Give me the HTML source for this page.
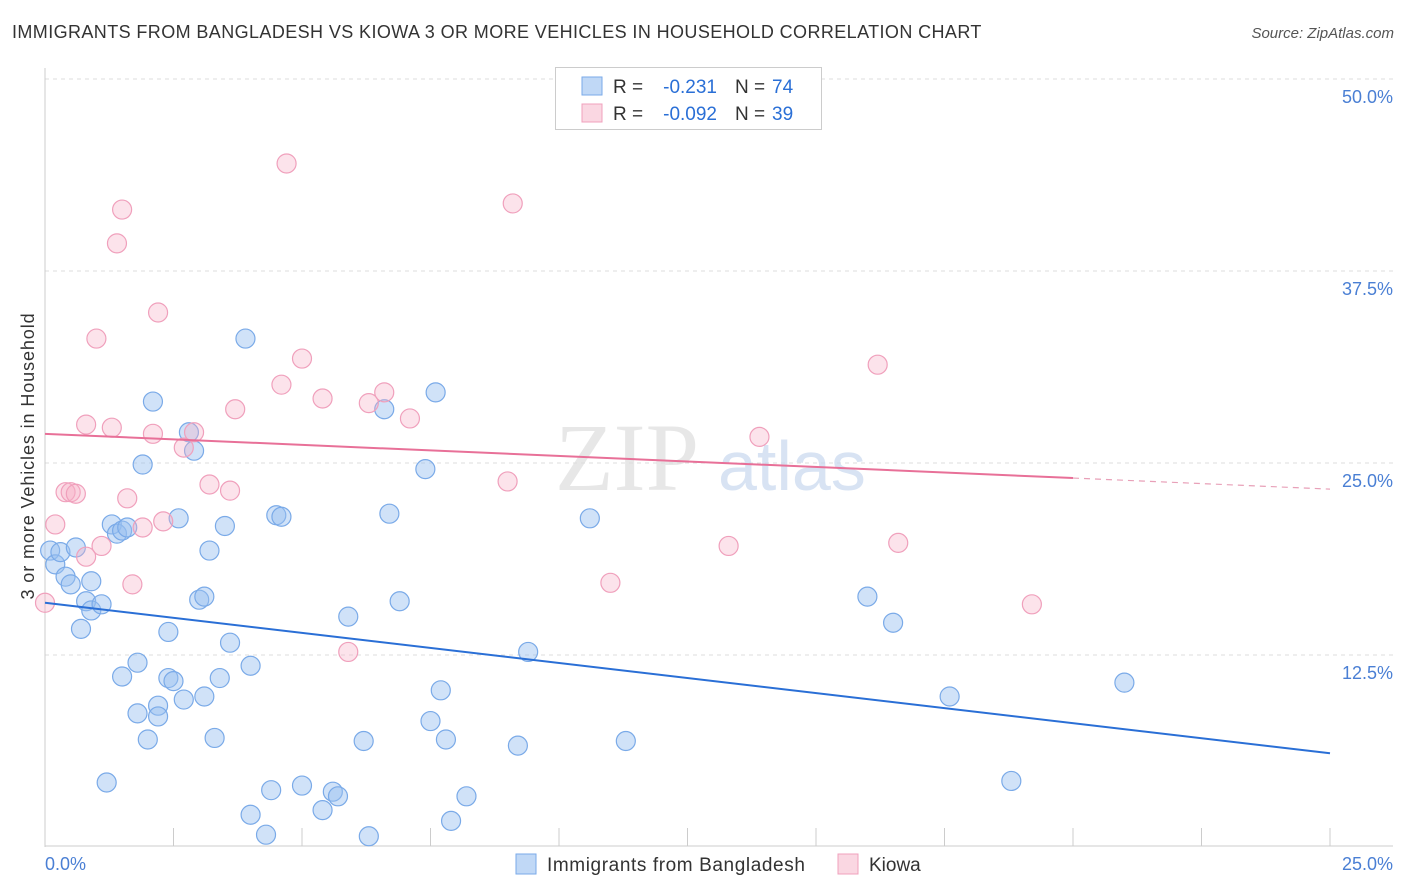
<!DOCTYPE html>
<html><head><meta charset="utf-8">
<style>
body{margin:0;background:#fff;font-family:"Liberation Sans",sans-serif;}
#wrap{position:relative;width:1406px;height:892px;overflow:hidden}
.t{position:absolute;white-space:nowrap}
</style></head>
<body><div id="wrap">
<div class="t" style="left:12px;top:22px;font-size:18px;color:#333;letter-spacing:0.4px">IMMIGRANTS FROM BANGLADESH VS KIOWA 3 OR MORE VEHICLES IN HOUSEHOLD CORRELATION CHART</div>
<div class="t" style="right:12px;top:25px;font-size:15px;color:#555;font-style:italic">Source: ZipAtlas.com</div>
<svg id="svg" width="1406" height="892" style="position:absolute;left:0;top:0"></svg>
</div>
<script>
const yTicks=[12.5,25,37.5,50];
const yTickLabels=["12.5%","25.0%","37.5%","50.0%"];
const xTickLabels=["0.0%","25.0%"];
const blueX=[0.1,0.2,0.3,0.6,0.4,0.5,0.9,0.8,0.9,1.1,0.7,1.3,1.4,1.5,1.6,2.1,1.9,2.6,2.8,2.9,3.2,3.5,3.0,3.1,2.4,3.6,1.8,1.5,2.4,2.5,3.4,4.0,3.1,2.7,2.2,1.8,2.2,2.0,3.3,1.2,3.9,4.5,4.6,4.0,4.3,4.4,5.0,5.4,5.6,5.7,6.2,6.3,5.9,6.6,6.7,6.9,7.6,7.4,7.7,7.5,7.8,8.2,7.9,9.4,9.2,10.6,11.3,16.0,16.5,17.6,18.8,21.0];
const blueY=[19.3,18.4,19.2,19.5,17.6,17.1,17.3,16.0,15.4,15.8,14.2,21.0,20.4,20.6,20.8,29.0,24.9,21.4,27.0,25.8,19.3,20.9,16.1,16.3,14.0,13.3,12.0,11.1,11.0,10.8,11.0,11.8,9.8,9.6,9.2,8.7,8.5,7.0,7.1,4.2,33.1,21.6,21.5,2.1,0.8,3.7,4.0,2.4,3.6,3.3,6.9,0.7,15.0,28.5,21.7,16.0,29.6,24.6,10.2,8.2,7.0,3.3,1.7,12.7,6.6,21.4,6.9,16.3,14.6,9.8,4.3,10.7];
const pinkX=[0.0,0.2,0.4,0.5,0.6,0.8,1.1,0.8,1.3,1.0,1.4,1.5,1.6,1.7,1.9,2.1,2.2,2.3,2.7,2.9,3.2,3.6,3.7,4.6,4.7,5.0,5.4,5.9,6.3,6.6,7.1,9.0,9.1,11.0,13.3,13.9,16.2,16.6,19.2];
const pinkY=[15.9,21.0,23.1,23.1,23.0,18.9,19.6,27.5,27.3,33.1,39.3,41.5,22.7,17.1,20.8,26.9,34.8,21.2,26.0,27.0,23.6,23.2,28.5,30.1,44.5,31.8,29.2,12.7,28.9,29.6,27.9,23.8,41.9,17.2,19.6,26.7,31.4,19.8,15.8];
const blueTrend=[15.9,6.1];
const pinkTrend=[26.9,23.3];
const pinkSolidEnd=20;

const X=v=>45+v*51.4, Y=v=>847-v*15.36;
const svg=document.getElementById('svg');const NS='http://www.w3.org/2000/svg';
function mk(tag,attrs,name,parent){const e=document.createElementNS(NS,tag);for(const k in attrs)e.setAttribute(k,attrs[k]);


(parent||svg).appendChild(e);return e;}
yTicks.forEach((t,i)=>{
 mk('line',{x1:45,x2:1393,y1:Y(t),y2:Y(t),stroke:'#ddd','stroke-dasharray':'4,4'},'gridline');
 const tx=mk('text',{x:1393,y:Y(t)+24,'text-anchor':'end','font-size':18,fill:'#4a7fd4','font-family':'Liberation Sans'},'y-tick-label');tx.textContent=yTickLabels[i];
});
mk('line',{x1:45,x2:45,y1:68,y2:847,stroke:'#ccc'},'y-axis');
mk('line',{x1:45,x2:1393,y1:846,y2:846,stroke:'#ccc'},'x-axis');
for(let i=0;i<=10;i++)mk('line',{x1:X(i*2.5),x2:X(i*2.5),y1:828,y2:846,stroke:'#ccc'},'x-tick');
[[0,'start',45],[1,'end',1393]].forEach(([i,a,x])=>{const t=mk('text',{x:x,y:870,'text-anchor':a,'font-size':18,fill:'#4a7fd4','font-family':'Liberation Sans'},'x-tick-label');t.textContent=xTickLabels[i];});
const w=mk('text',{x:555,y:490,'font-size':96,fill:'#ddd','font-family':'Liberation Serif','opacity':0.7},'watermark');w.textContent='ZIP';
const w2=mk('text',{x:718,y:490,'font-size':70,fill:'#c8d8ef','font-family':'Liberation Sans','opacity':0.7},'watermark-atlas');w2.textContent='atlas';
blueX.forEach((v,i)=>mk('circle',{cx:X(v),cy:Y(blueY[i]),r:9.5,fill:'rgba(150,190,240,0.45)',stroke:'#7aaae8','stroke-width':1.2},'blue-point'));
pinkX.forEach((v,i)=>mk('circle',{cx:X(v),cy:Y(pinkY[i]),r:9.5,fill:'rgba(245,175,198,0.35)',stroke:'#f0a0bc','stroke-width':1.2},'pink-point'));
mk('line',{x1:X(0),y1:Y(blueTrend[0]),x2:X(25),y2:Y(blueTrend[1]),stroke:'#2a6fd6','stroke-width':2},'blue-trend-line');
const pAt=x=>pinkTrend[0]+(pinkTrend[1]-pinkTrend[0])*x/25;
mk('line',{x1:X(0),y1:Y(pAt(0)),x2:X(pinkSolidEnd),y2:Y(pAt(pinkSolidEnd)),stroke:'#e87098','stroke-width':2},'pink-trend-line');
mk('line',{x1:X(pinkSolidEnd),y1:Y(pAt(pinkSolidEnd)),x2:X(25),y2:Y(pAt(25)),stroke:'#e8a0b8','stroke-width':1.2,'stroke-dasharray':'6,5'},'pink-trend-extension');
mk('rect',{x:555.5,y:67.5,width:266,height:62,fill:'#fff',stroke:'#ccc'},'legend-box');
function txt(x,y,s,fill,anchor,name){const t=mk('text',{x:x,y:y,'font-size':19,fill:fill,'font-family':'Liberation Sans','text-anchor':anchor||'start'},name);t.textContent=s;return t;}
function lg(y,fill,stroke,r,n,name){
 mk('rect',{x:582,y:y-9,width:20,height:18,fill:fill,stroke:stroke},name+'-swatch');
 txt(613,y+7,'R =','#333','start',name+'-r-label');
 txt(717,y+7,r,'#2a6fd6','end',name+'-r-value');
 txt(735,y+7,'N =','#333','start',name+'-n-label');
 txt(772,y+7,n,'#2a6fd6','start',name+'-n-value');
}
lg(86,'rgba(150,190,240,0.6)','#7aaae8','-0.231','74','legend-blue');
lg(113,'rgba(245,175,198,0.5)','#f0a0bc','-0.092','39','legend-pink');
mk('rect',{x:516,y:854,width:20,height:20,fill:'rgba(150,190,240,0.6)',stroke:'#7aaae8'},'bottom-legend-blue-swatch');
let t=mk('text',{x:547,y:871,'font-size':19,fill:'#333','font-family':'Liberation Sans','letter-spacing':'0.6'},'bottom-legend-blue-label');t.textContent='Immigrants from Bangladesh';
mk('rect',{x:838,y:854,width:20,height:20,fill:'rgba(245,175,198,0.5)',stroke:'#f0a0bc'},'bottom-legend-pink-swatch');
t=mk('text',{x:869,y:871,'font-size':19,fill:'#333','font-family':'Liberation Sans'},'bottom-legend-pink-label');t.textContent='Kiowa';
t=mk('text',{x:0,y:0,'font-size':18,fill:'#333','font-family':'Liberation Sans','text-anchor':'middle','letter-spacing':'0.9',transform:'translate(34,456) rotate(-90)'},'y-axis-title');t.textContent='3 or more Vehicles in Household';
</script>
</body></html>
